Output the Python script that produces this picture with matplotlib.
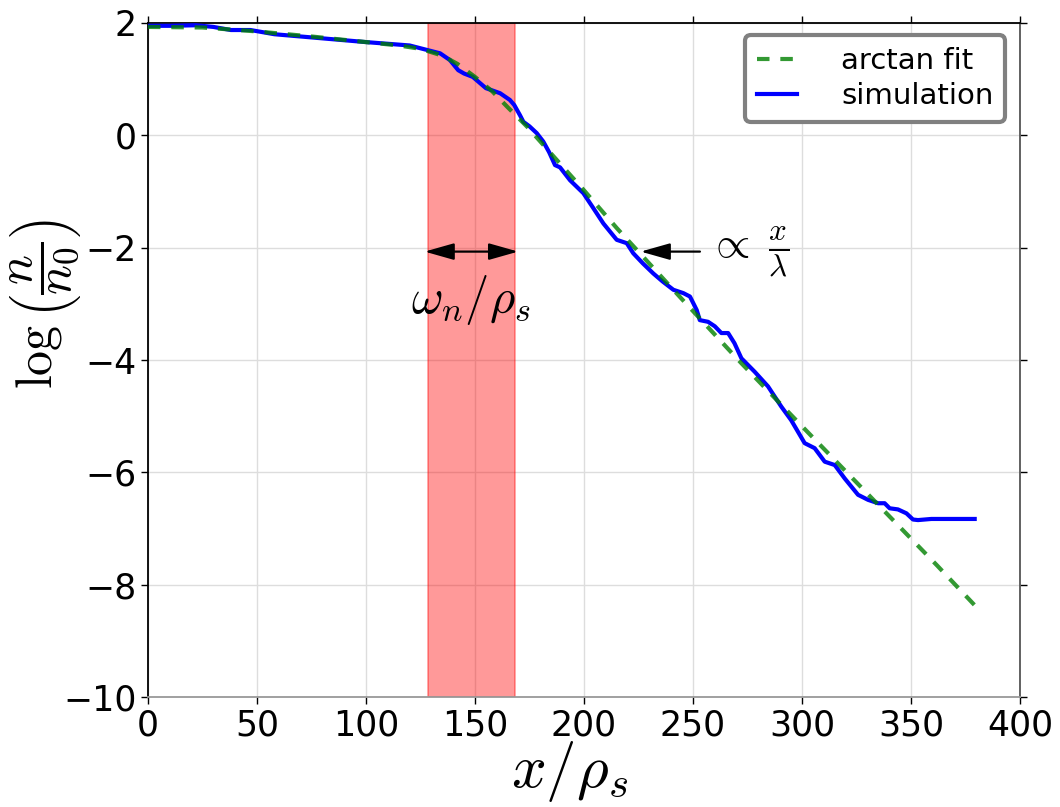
import numpy as np
import matplotlib
matplotlib.use("Agg")
from matplotlib import pyplot as plt

plt.rcParams["mathtext.fontset"] = "cm"

# simulation profile
sim_x = [0, 10, 22, 30, 38, 47, 58, 70, 85, 100, 110, 120, 129, 134, 138.5, 142.3,
         145, 149, 155, 161.5, 166, 168, 170.6, 172.2, 175, 178.3, 181.3, 184,
         186.7, 189, 193.6, 199.7, 204, 208.9, 215, 219.6, 222.6, 227, 231.8,
         236, 241, 245.6, 248.6, 251.7, 253.1, 256.9, 260, 263, 266.1, 269,
         272.2, 278.3, 284.4, 290.5, 295, 301.2, 305.8, 310.4, 315, 319.6,
         325.7, 330.3, 334.9, 337.9, 340.2, 344, 347.9, 350.9, 353.2, 359.3,
         367, 379.2]
sim_y = [1.95, 1.95, 1.96, 1.93, 1.875, 1.875, 1.80, 1.76, 1.71, 1.66, 1.63,
         1.60, 1.51, 1.46, 1.34, 1.16, 1.10, 1.04, 0.84, 0.75, 0.63, 0.54, 0.36,
         0.24, 0.16, 0.04, -0.11, -0.30, -0.53, -0.57, -0.80, -1.03, -1.28,
         -1.57, -1.86, -1.92, -2.10, -2.28, -2.46, -2.60, -2.75, -2.81, -2.87,
         -3.11, -3.29, -3.32, -3.40, -3.52, -3.52, -3.70, -3.97, -4.21, -4.47,
         -4.83, -5.07, -5.48, -5.57, -5.81, -5.87, -6.11, -6.40, -6.49, -6.55,
         -6.55, -6.64, -6.66, -6.73, -6.84, -6.85, -6.83, -6.83, -6.83]

# arctan fit
fit_x = [0, 25, 50, 75, 100, 115, 125, 135, 142, 150, 158, 165, 174, 185, 200,
         215, 245, 272, 300, 328, 350, 362, 380]
fit_y = [1.93, 1.92, 1.85, 1.76, 1.66, 1.60, 1.54, 1.42, 1.27, 1.04, 0.78, 0.50,
         0.15, -0.33, -0.98, -1.65, -2.92, -4.05, -5.18, -6.30, -7.18, -7.66,
         -8.40]

band = (128.4, 168.3)
arrow_y = -2.07

fig = plt.figure(figsize=(10.6, 8.07), dpi=100)
ax = fig.add_axes([0.1396, 0.1363, 0.8227, 0.8352])

ax.axvspan(band[0], band[1], facecolor="red", alpha=0.4, edgecolor="red",
           linewidth=1.2, zorder=1)
ax.plot(sim_x, sim_y, color="b", linewidth=3, label="simulation", zorder=3)
ax.plot(fit_x, fit_y, color="g", alpha=0.8, linewidth=3,
        linestyle=(0, (3, 2.6)), label="arctan fit", zorder=4)

head = "head_length=0.6,head_width=0.17"
ax.annotate("", xy=(band[0] - 1.5, arrow_y), xytext=(band[1] + 1.5, arrow_y),
            arrowprops=dict(arrowstyle="<|-|>," + head, color="k", lw=1.6,
                            mutation_scale=30, shrinkA=0, shrinkB=0), zorder=5)
ax.text(148.2, -2.93, r"$\omega_n/\rho_s$", fontsize=35, ha="center",
        va="center")
ax.annotate(r"$\propto\;\frac{x}{\lambda}$", xy=(226, arrow_y),
            xytext=(257, arrow_y), fontsize=32, va="center", ha="left",
            arrowprops=dict(arrowstyle="-|>," + head, color="k", lw=1.6,
                            mutation_scale=30, shrinkA=4, shrinkB=0), zorder=5)

ax.set_xlim(0, 400)
ax.set_ylim(-10, 2)
ax.set_xticks(np.arange(0, 401, 50))
ax.set_yticks(np.arange(-10, 3, 2))
ax.grid(True, color="#dddddd", linewidth=1)
ax.set_axisbelow(True)
ax.tick_params(direction="out", top=True, right=True, length=5, width=1,
               pad=3)
ax.tick_params(axis="y", labelsize=25)
ax.tick_params(axis="x", labelsize=25)
for sp in ax.spines.values():
    sp.set_linewidth(1.3)
ax.spines["bottom"].set_color("#999999")
ax.spines["right"].set_color("#555555")

ax.set_xlabel(r"$x/\rho_s$", fontsize=44)
ax.xaxis.set_label_coords(0.483, -0.063)
ax.set_ylabel(r"$\log\left(\dfrac{n}{n_0}\right)$", fontsize=36)
ax.yaxis.set_label_coords(-0.074, 0.583)

handles, labels = ax.get_legend_handles_labels()
leg = ax.legend(handles[::-1], labels[::-1], loc="upper right", fontsize=21,
                handlelength=1.4, borderpad=0.4, labelspacing=0.25,
                handletextpad=1.5, borderaxespad=0, fancybox=True,
                framealpha=1, bbox_to_anchor=(0.983, 0.982))
leg.get_frame().set_edgecolor("#808080")
leg.get_frame().set_linewidth(3)

fig.savefig("out.png", dpi=100)
